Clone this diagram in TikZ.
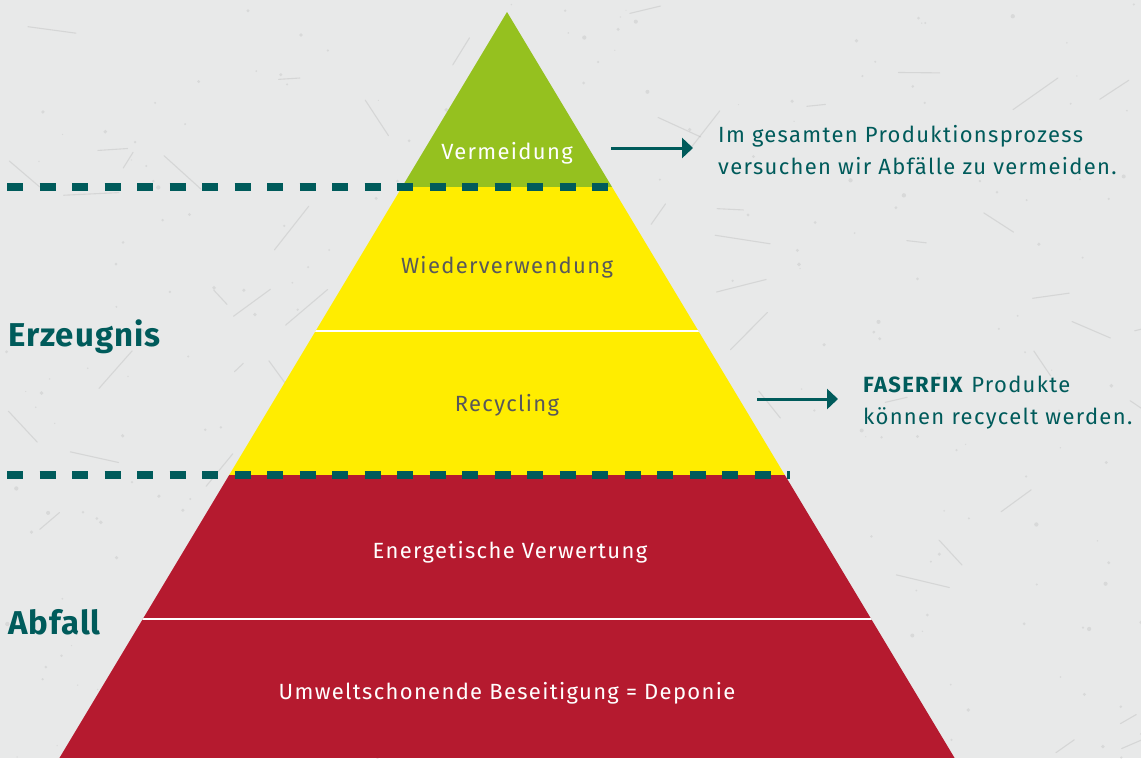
\documentclass[tikz,border=0pt]{standalone}
\usepackage{fontspec}
\setmainfont{Fira Sans}
\newfontfamily\spacedfont[LetterSpace=6]{Fira Sans}
\newfontfamily\headfont[LetterSpace=3]{Fira Sans}
\usetikzlibrary{arrows.meta,positioning}
\definecolor{leafgreen}{HTML}{95C11F}
\definecolor{signyellow}{HTML}{FFED00}
\definecolor{winered}{HTML}{B51A2F}
\definecolor{petrol}{HTML}{005B5B}
\definecolor{concrete}{HTML}{E8E9E9}
\definecolor{labelgray}{HTML}{58585A}
\tikzstyle{level label}=[anchor=base, inner sep=0pt, font=\spacedfont\fontsize{22}{26}\selectfont]
\tikzstyle{side label}=[anchor=base west, inner sep=0pt, text=petrol, font=\headfont\fontsize{33}{38}\selectfont\bfseries]
\tikzstyle{note}=[anchor=base west, inner sep=0pt, text=petrol, font=\spacedfont\fontsize{22}{26}\selectfont]
\tikzstyle{pointer}=[-{Triangle[length=11pt,width=20pt]}, draw=petrol, fill=petrol, line width=3pt]
\tikzstyle{divider}=[draw=petrol, line width=7.5pt, dash pattern=on 16pt off 16.5pt]
\tikzstyle{scratch}=[draw=black!45, line width=1.1pt, opacity=0.2, line cap=round]
\tikzstyle{speck}=[fill=black!40, opacity=0.2]

\begin{document}
\begin{tikzpicture}[x=1pt, y=-1pt]
	% concrete background
	\fill[concrete] (0,0) rectangle (1141,758);
	\useasboundingbox (0,0) rectangle (1141,758);
	\pgfmathsetseed{42}
	\foreach \i in {1,...,70} {
		\pgfmathsetmacro{\sx}{1141*rnd}
		\pgfmathsetmacro{\sy}{758*rnd}
		\pgfmathsetmacro{\sa}{-60+120*rnd}
		\pgfmathsetmacro{\sl}{12+45*rnd}
		\draw[scratch] (\sx,\sy) -- ++(\sa:\sl);
	}
	\foreach \i in {1,...,260} {
		\pgfmathsetmacro{\sx}{1141*rnd}
		\pgfmathsetmacro{\sy}{758*rnd}
		\pgfmathsetmacro{\sr}{0.6+1.6*rnd}
		\fill[speck] (\sx,\sy) circle (\sr);
	}

	% pyramid
	\coordinate (apex) at (507,12);
	\coordinate (baseL) at (59.4,758);
	\coordinate (baseR) at (954.6,758);
	\begin{scope}
		\clip (apex) -- (baseR) -- (baseL) -- cycle;
		\fill[leafgreen] (0,0) rectangle (1141,187);
		\fill[signyellow] (0,187) rectangle (1141,475);
		\fill[winered] (0,475) rectangle (1141,758);
		\draw[white, line width=2.5pt] (0,331) -- (1141,331);
		\draw[white, line width=2.5pt] (0,619) -- (1141,619);
	\end{scope}

	% dashed borders
	\coordinate (topL) at (7,187);
	\coordinate (topR) at (617,187);
	\coordinate (midL) at (7,475);
	\coordinate (midR) at (790,475);
	\draw[divider] (topL) -- (topR);
	\draw[divider] (midL) -- (midR);

	% levels
	\node[level label, text=white] (vermeidung) at (507,159) {Vermeidung};
	\node[level label, text=labelgray] (wiederverwendung) at (507,273) {Wiederverwendung};
	\node[level label, text=labelgray] (recycling) at (507,411) {Recycling};
	\node[level label, text=white] (energie) at (510,558) {Energetische Verwertung};
	\node[level label, text=white] (deponie) at (507,699) {Umweltschonende Beseitigung = Deponie};

	% left labels
	\node[side label] (erzeugnis) at (8,346) {Erzeugnis};
	\node[side label] (abfall) at (8,634) {Abfall};

	% notes on the right
	\node[note] (vermNoteA) at (718,142) {Im gesamten Produktionsprozess};
	\node[note] (vermNoteB) at (718,174) {versuchen wir Abfälle zu vermeiden.};
	\node[note] (recNoteA) at (863,392) {\textbf{FASERFIX} Produkte};
	\node[note] (recNoteB) at (863,424) {können recycelt werden.};
	\coordinate (vermTail) at (611,148);
	\coordinate (vermTip) at (693,148);
	\coordinate (recTail) at (757,399);
	\coordinate (recTip) at (838,399);
	\draw[pointer] (vermTail) -- (vermTip);
	\draw[pointer] (recTail) -- (recTip);
\end{tikzpicture}
\end{document}
